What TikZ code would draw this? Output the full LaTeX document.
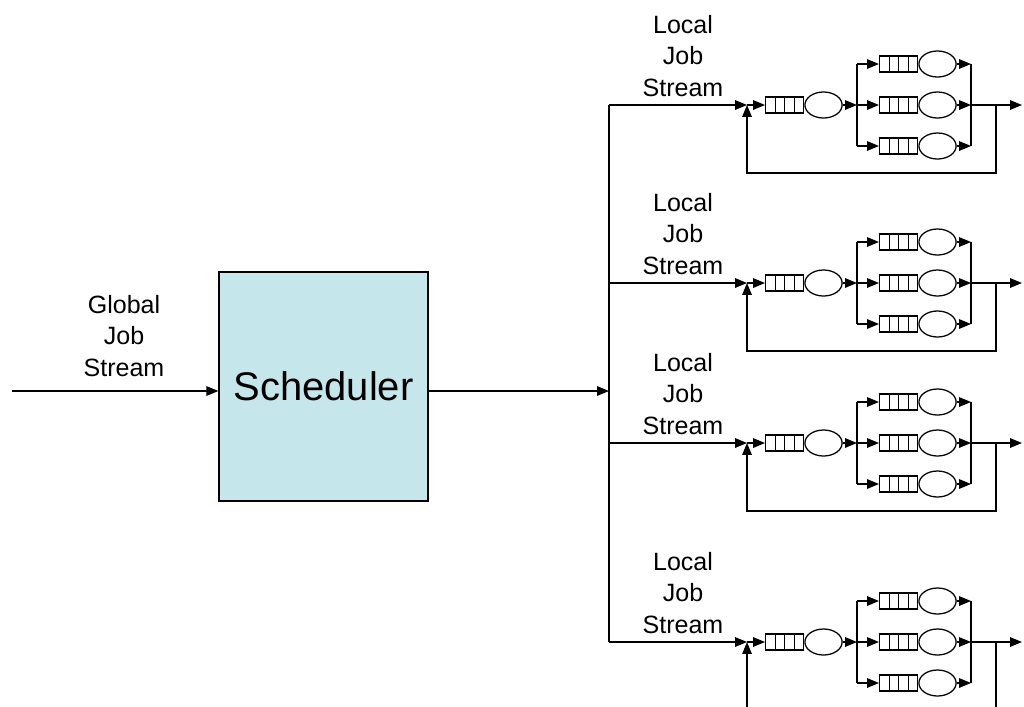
\documentclass[tikz,border=0pt]{standalone}
\usepackage{fontspec}
\setmainfont{Liberation Sans}
\usetikzlibrary{arrows.meta,shapes.geometric,positioning,calc}

\definecolor{schedblue}{RGB}{197,230,235}

\tikzset{
  sched/.style={draw,fill=schedblue,minimum width=5.225cm,minimum height=5.725cm,
    inner sep=0pt,font=\fontsize{28.4}{34}\selectfont},
  stream/.style={align=center,font=\fontsize{17.8}{22.5}\selectfont,inner sep=0pt},
  queue/.style={draw,rectangle,minimum width=0.95cm,minimum height=0.4cm,inner sep=0pt,
    path picture={\foreach \k in {1,2,3}
      \draw ($(path picture bounding box.north west)!\k/4!(path picture bounding box.north east)$)
         -- ($(path picture bounding box.south west)!\k/4!(path picture bounding box.south east)$);}},
  server/.style={draw,ellipse,minimum width=0.93cm,minimum height=0.65cm,inner sep=0pt}
}

\begin{document}
\begin{tikzpicture}[x=0.025cm,y=-0.025cm,>={Triangle[length=8.5pt,width=6.8pt]},line width=0.9pt]
 \useasboundingbox (0,0) rectangle (1024,706);
 \clip (0,0) rectangle (1024,706);

 % scheduler
 \node[sched] (sched) at (323.5,386.5) {Scheduler};
 \node[stream] (global) at (124,336) {Global\\Job\\Stream};
 \coordinate (gin) at (12,391);
 \coordinate (bus) at (609,391);
 \draw[->] (gin) -- (sched.west |- gin);
 \draw[->] (sched.east |- bus) -- (bus);
 \draw (609,105) -- (609,642);

 % local sites
 \foreach \g/\y in {1/105,2/283,3/443,4/642} {
   \coordinate (tap\g) at (609,\y);
   \coordinate (in\g) at (747,\y);
   \coordinate (fork\g) at (857,\y);
   \coordinate (join\g) at (971,\y);
   \coordinate (fb\g) at (996,\y);
   \coordinate (out\g) at (1022,\y);
   \node[stream] (local\g) at (683,\y-49) {Local\\Job\\Stream};

   \node[queue,anchor=west] (qa\g) at (765,\y) {};
   \node[server,right=0pt of qa\g] (sa\g) {};

   \draw[->] (tap\g) -- (in\g);
   \draw[->] (in\g) -- (qa\g);
   \draw[->] (sa\g) -- (fork\g);

   \foreach \b/\dy in {t/-41,m/0,b/41} {
     \node[queue,anchor=west] (q\b\g) at (879,\y+\dy) {};
     \node[server,right=0pt of q\b\g] (s\b\g) {};
     \draw[->] (fork\g |- q\b\g) -- (q\b\g);
     \draw[->] (s\b\g) -- (join\g |- s\b\g);
   }
   \draw (fork\g |- qt\g) -- (fork\g |- qb\g);
   \draw (join\g |- qt\g) -- (join\g |- qb\g);
   \draw[->] (join\g) -- (out\g);
   \draw[->] (fb\g) -- ++(0,68) -| (in\g);
 }
\end{tikzpicture}
\end{document}
